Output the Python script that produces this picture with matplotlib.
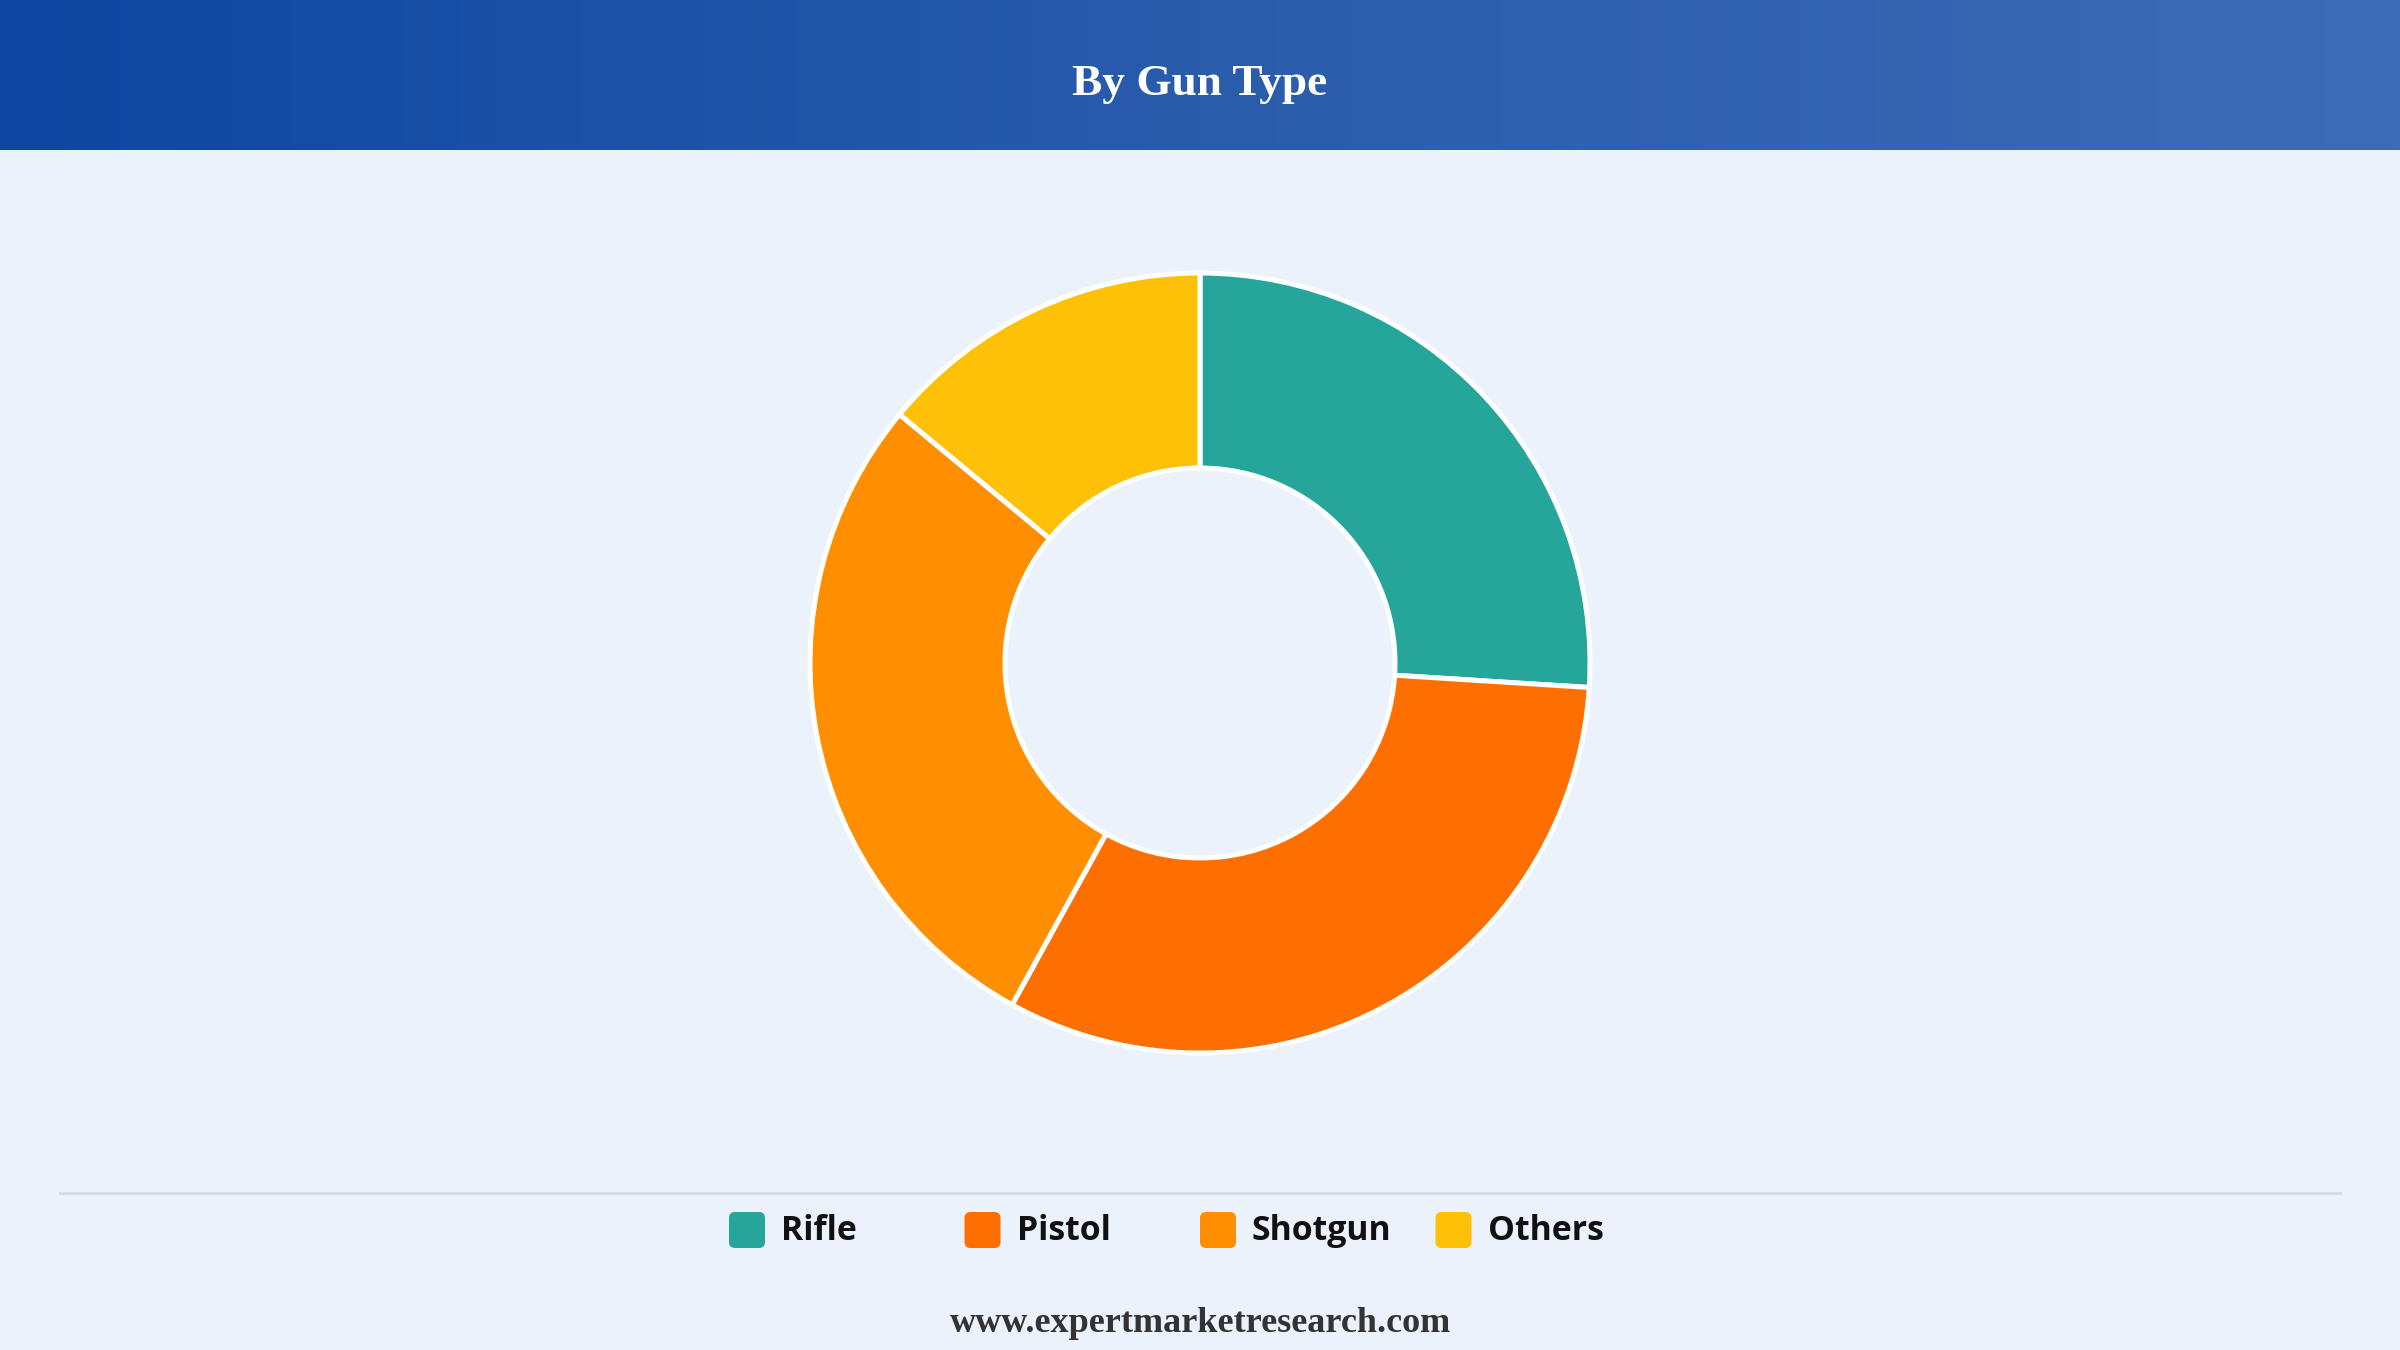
import matplotlib
matplotlib.use("Agg")
import matplotlib.pyplot as plt
import numpy as np
from matplotlib.patches import FancyBboxPatch
from matplotlib.colors import LinearSegmentedColormap

# ---- data ----
categories = ["Rifle", "Pistol", "Shotgun", "Others"]
shares = [26, 32, 28, 14]
colors = ["#26A69A", "#FF6F00", "#FF8F00", "#FFC107"]
title = "By Gun Type"
footer = "www.expertmarketresearch.com"

W, H, DPI = 2400, 1350, 200
BG = "#EBF2FC"

fig = plt.figure(figsize=(W / DPI, H / DPI), dpi=DPI, facecolor=BG)

def fx(px):
    return px / W

def fy(py):
    return 1 - py / H

# ---- header gradient ----
hax = fig.add_axes([0, fy(150), 1, 150 / H])
grad = np.linspace(0, 1, 512).reshape(1, -1)
cmap = LinearSegmentedColormap.from_list("hdr", ["#0D47A1", "#2A5CAC", "#3D6CB6"])
hax.imshow(grad, aspect="auto", cmap=cmap, extent=[0, 1, 0, 1])
hax.set_axis_off()
fig.text(0.5, fy(84), title, ha="center", va="center", color="white",
         fontsize=16.3, fontweight="bold", family="Liberation Serif")

# ---- donut ----
cx, cy, side = 1200, 663, 800
ax = fig.add_axes([fx(cx - side / 2), fy(cy + side / 2), side / W, side / H])
ax.set_facecolor(BG)
outer = 390 / (side / 2)
inner = 195 / (side / 2)
ax.pie(shares, colors=colors, startangle=90, counterclock=False, radius=outer,
       wedgeprops=dict(width=outer - inner, edgecolor="white", linewidth=1.8))
ax.set_xlim(-1, 1)
ax.set_ylim(-1, 1)
ax.set_aspect("equal")
ax.set_axis_off()

# ---- separator ----
fig.add_artist(plt.Line2D([fx(60), fx(2340)], [fy(1193), fy(1193)],
                          color="#D8DCE2", linewidth=1.1))

# ---- legend ----
x0, step, sq, ly = 729, 235.5, 36, 1230
for i, (cat, col) in enumerate(zip(categories, colors)):
    x = x0 + i * step
    p = FancyBboxPatch((fx(x), fy(ly + sq / 2)), fx(sq), sq / H,
                       boxstyle="round,pad=0,rounding_size=0.0025",
                       transform=fig.transFigure, facecolor=col,
                       edgecolor="none", mutation_aspect=W / H)
    fig.add_artist(p)
    fig.text(fx(x + sq + 16), fy(ly + 1), cat, ha="left", va="center",
             fontsize=12.2, fontweight="bold", family="Open Sans",
             color="#111111")

# ---- footer ----
fig.text(0.5, fy(1323), footer, ha="center", va="center", color="#333333",
         fontsize=13, fontweight="bold", family="Liberation Serif")

fig.savefig("out.png", dpi=DPI, facecolor=BG)
